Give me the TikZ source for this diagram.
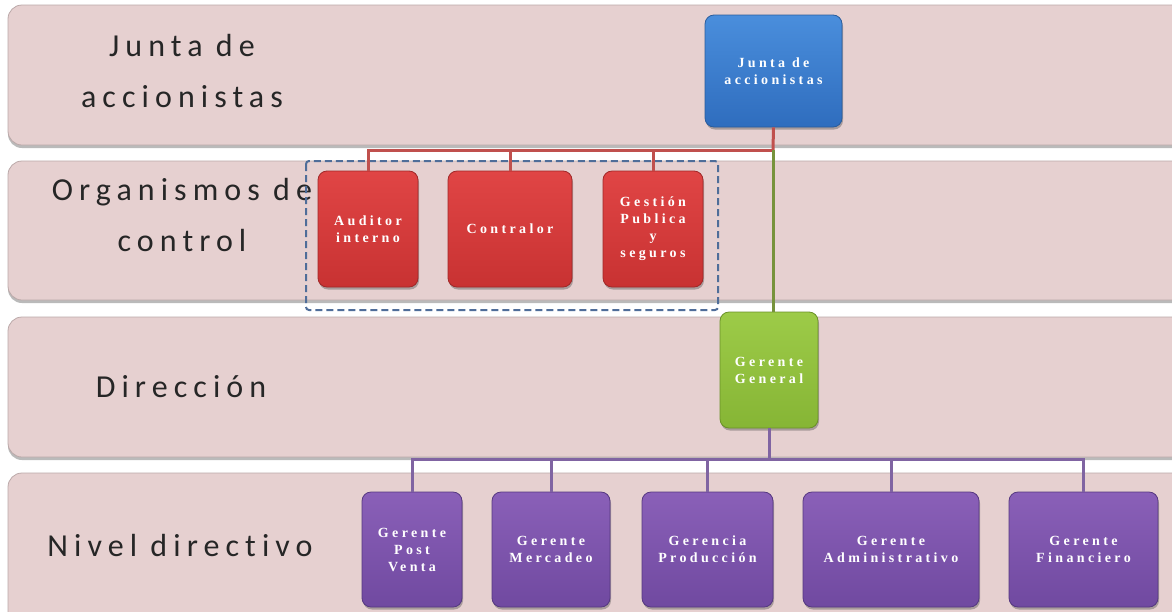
\documentclass[tikz,border=0pt]{standalone}
\usepackage{fontspec}
\setmainfont{Carlito}
\newfontfamily\bandfont[LetterSpace=19, Ligatures=NoCommon]{Carlito}
\newfontfamily\unitfont[LetterSpace=24, Ligatures=NoCommon]{Liberation Serif}
\usetikzlibrary{shadows}

\definecolor{bandpink}{HTML}{E6D0D0}
\definecolor{bandedge}{HTML}{BBA9A9}
\definecolor{bluetop}{HTML}{4A8EDC}
\definecolor{bluebot}{HTML}{2F6DBE}
\definecolor{blueedge}{HTML}{2A5C9C}
\definecolor{redtop}{HTML}{E04545}
\definecolor{redbot}{HTML}{C83232}
\definecolor{rededge}{HTML}{A02828}
\definecolor{greentop}{HTML}{9DCB48}
\definecolor{greenbot}{HTML}{86B535}
\definecolor{greenedge}{HTML}{6A9128}
\definecolor{purptop}{HTML}{8A60B8}
\definecolor{purpbot}{HTML}{7049A0}
\definecolor{purpedge}{HTML}{553880}
\definecolor{redwire}{HTML}{C0504D}
\definecolor{greenwire}{HTML}{77933C}
\definecolor{purpwire}{HTML}{8064A2}
\definecolor{dashblue}{HTML}{4F6D99}

\tikzset{
  band/.style={fill=bandpink, draw=bandedge, line width=0.8pt, rounded corners=14pt,
    drop shadow={shadow xshift=0pt, shadow yshift=-3pt, opacity=0.45, fill=black!60}},
  bandtext/.style={font=\bandfont\fontsize{32}{51}\selectfont, text=black!85, align=center},
  unit/.style={rounded corners=9pt, align=center, text=white, line width=0.8pt,
    font=\unitfont\bfseries\fontsize{14}{17}\selectfont, inner sep=2pt,
    drop shadow={shadow xshift=1pt, shadow yshift=-2.5pt, opacity=0.4, fill=black!70}},
  blueunit/.style={unit, top color=bluetop, bottom color=bluebot, draw=blueedge},
  redunit/.style={unit, top color=redtop, bottom color=redbot, draw=rededge},
  greenunit/.style={unit, top color=greentop, bottom color=greenbot, draw=greenedge},
  purpunit/.style={unit, top color=purptop, bottom color=purpbot, draw=purpedge},
  wire/.style={line width=3pt},
}

\begin{document}
\begin{tikzpicture}[x=1pt, y=-1pt]
\useasboundingbox (0,0) rectangle (1172,611);
\fill[white] (0,0) rectangle (1172,611);

% level bands
\draw[band] (8,5)   rectangle (1200,145);
\draw[band] (8,161) rectangle (1200,300);
\draw[band] (8,317) rectangle (1200,457);
\draw[band] (8,473) rectangle (1200,640);

% level captions
\node[bandtext] (capjunta) at (182,71) {Junta de\\accionistas};
\node[bandtext] (capcontrol) at (182,215) {Organismos de\\control};
\node[bandtext] (capdir) at (181,387) {Dirección};
\node[bandtext] (capnivel) at (180,545) {Nivel directivo};

% control group frame
\draw[dashblue, line width=2pt, dash pattern=on 7pt off 4pt, rounded corners=3pt]
  (306,161) rectangle (718,310);

% units
\node[blueunit, minimum width=137pt, minimum height=112pt] (junta) at (773.5,71) {Junta de\\accionistas};
\node[redunit, minimum width=100pt, minimum height=116pt] (aud) at (368,229) {Auditor\\interno};
\node[redunit, minimum width=124pt, minimum height=116pt] (con) at (510,229) {Contralor};
\node[redunit, minimum width=100pt, minimum height=116pt] (ges) at (653,229) {Gestión\\Publica\\y\\seguros};
\node[greenunit, minimum width=98pt, minimum height=116pt] (gg) at (769,370) {Gerente\\General};
\node[purpunit, minimum width=100pt, minimum height=115pt] (pv) at (412,549.5) {Gerente\\Post\\Venta};
\node[purpunit, minimum width=118pt, minimum height=115pt] (mer) at (551,549.5) {Gerente\\Mercadeo};
\node[purpunit, minimum width=131pt, minimum height=115pt] (pro) at (707.5,549.5) {Gerencia\\Producción};
\node[purpunit, minimum width=176pt, minimum height=115pt] (adm) at (891,549.5) {Gerente\\Administrativo};
\node[purpunit, minimum width=149pt, minimum height=115pt] (fin) at (1083.5,549.5) {Gerente\\Financiero};

% connectors
\coordinate (redbus) at (773,150);
\coordinate (purpbus) at (769,459);
\draw[wire, redwire] (junta.south) -- (redbus);
\draw[wire, redwire] (redbus) -| (aud.north);
\draw[wire, redwire] (redbus) -| (con.north);
\draw[wire, redwire] (redbus) -| (ges.north);
\draw[wire, greenwire] (redbus) -- (redbus |- gg.north);
\draw[wire, purpwire] (gg.south) -- (purpbus);
\draw[wire, purpwire] (purpbus) -| (pv.north);
\draw[wire, purpwire] (purpbus) -| (mer.north);
\draw[wire, purpwire] (purpbus) -| (pro.north);
\draw[wire, purpwire] (purpbus) -| (adm.north);
\draw[wire, purpwire] (purpbus) -| (fin.north);
\end{tikzpicture}
\end{document}
